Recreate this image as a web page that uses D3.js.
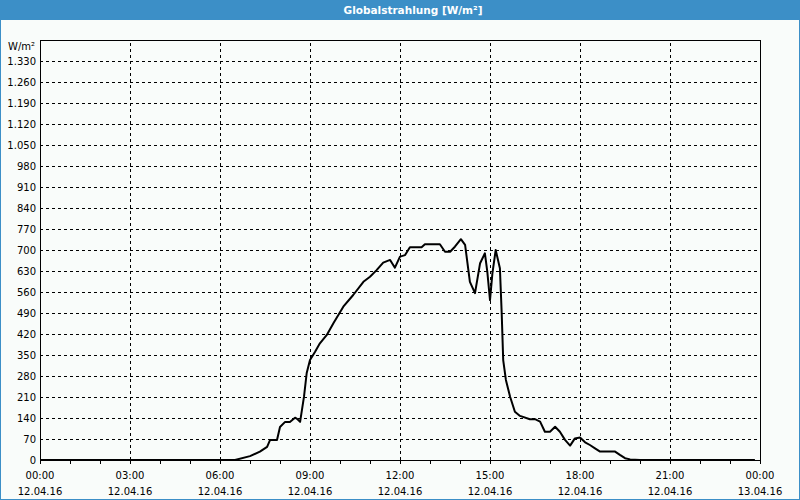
<!DOCTYPE html>
<html>
<head>
<meta charset="utf-8">
<script src="https://cdn.jsdelivr.net/npm/d3@7"></script>
<style>
  body { margin: 0; background: #fff; }
  svg { display: block; }
</style>
</head>
<body>
<svg id="chart"></svg>
<script>
// chart data (hours since 12.04.16 00:00, W/m²)
const hours = [0, 6.5, 7.0, 7.33, 7.57, 7.67, 7.9, 8.0, 8.17, 8.33, 8.5, 8.57, 8.67, 8.8, 8.89,
    9.0, 9.17, 9.33, 9.56, 9.78, 10.11, 10.44, 10.78, 11.0, 11.22, 11.44, 11.67, 11.83, 12.0,
    12.17, 12.33, 12.72, 12.83, 13.33, 13.5, 13.67, 13.83, 14.03, 14.17, 14.33, 14.5, 14.67,
    14.83, 14.91, 15.0, 15.08, 15.19, 15.33, 15.39, 15.44, 15.53, 15.67, 15.83, 16.0, 16.33,
    16.5, 16.67, 16.83, 17.0, 17.17, 17.33, 17.5, 17.67, 17.83, 18.0, 18.17, 18.33, 18.5,
    18.67, 19.17, 19.33, 19.5, 19.67, 20.0, 23.83];
const radiation = [0, 0, 13, 28, 44, 67, 67, 110, 127, 127, 141, 137, 127, 211, 290,
    333, 361, 389, 417, 456, 511, 550, 594, 611, 633, 658, 667, 641, 678,
    683, 709, 709, 719, 719, 694, 694, 711, 736, 717, 594, 556, 656,
    689, 628, 533, 622, 700, 639, 489, 333, 267, 211, 161, 147, 136,
    136, 128, 94, 94, 111, 94, 67, 48, 72, 75, 59, 50, 39,
    28, 28, 17, 6, 2, 0, 0];

const yTicks = d3.range(0, 1331, 70);
const xTicks = [0, 3, 6, 9, 12, 15, 18, 21, 24];
const xTimeLabels = ["00:00", "03:00", "06:00", "09:00", "12:00", "15:00", "18:00", "21:00", "00:00"];
const xDateLabels = ["12.04.16", "12.04.16", "12.04.16", "12.04.16", "12.04.16", "12.04.16", "12.04.16", "12.04.16", "13.04.16"];
const titleText = "Globalstrahlung [W/m²]";
const unitText = "W/m²";

const width = 800, height = 500;
const margin = {top: 40, right: 40, bottom: 40, left: 40};
const blue = "#3c8fc7";
const font = "DejaVu Sans, Verdana, sans-serif";

const svg = d3.select("#chart")
    .attr("width", width)
    .attr("height", height);

// background + frame
svg.append("rect")
    .attr("width", width).attr("height", height)
    .attr("fill", "#f9fcfa");
svg.append("rect")
    .attr("x", 0.5).attr("y", 0.5)
    .attr("width", width - 1).attr("height", height - 1)
    .attr("fill", "none").attr("stroke", blue);

// title bar
svg.append("rect")
    .attr("width", width).attr("height", 20)
    .attr("fill", blue);
svg.append("text")
    .attr("x", 413).attr("y", 14)
    .attr("text-anchor", "middle")
    .attr("fill", "#fff")
    .attr("font-family", font)
    .attr("font-size", "10.5px")
    .attr("font-weight", "bold")
    .text(titleText);

const x = d3.scaleLinear().domain([0, 24]).range([margin.left, width - margin.right]);
const y = d3.scaleLinear().domain([0, 1400]).range([height - margin.bottom, margin.top]);

// grid
const grid = svg.append("g")
    .attr("stroke", "#000")
    .attr("stroke-dasharray", "3,3")
    .attr("shape-rendering", "crispEdges");
grid.selectAll(".hgrid")
    .data(yTicks.filter(d => d > 0))
    .join("line")
    .attr("class", "hgrid")
    .attr("x1", x(0)).attr("x2", x(24))
    .attr("y1", d => y(d)).attr("y2", d => y(d));
grid.selectAll(".vgrid")
    .data(xTicks.slice(1, -1))
    .join("line")
    .attr("class", "vgrid")
    .attr("x1", d => x(d)).attr("x2", d => x(d))
    .attr("y1", y(0)).attr("y2", y(1400));

// plot frame
svg.append("rect")
    .attr("x", x(0)).attr("y", y(1400))
    .attr("width", x(24) - x(0)).attr("height", y(0) - y(1400))
    .attr("fill", "none").attr("stroke", "#000")
    .attr("shape-rendering", "crispEdges");

// hourly ticks under the x axis
svg.append("g")
    .attr("transform", `translate(0,${y(0)})`)
    .call(d3.axisBottom(x).tickValues(d3.range(0, 25)).tickSize(4).tickFormat(""))
    .call(g => g.select(".domain").remove())
    .attr("shape-rendering", "crispEdges");

// y labels
svg.append("g")
    .attr("font-family", font)
    .attr("font-size", "10px")
    .attr("text-anchor", "end")
    .selectAll("text")
    .data(yTicks)
    .join("text")
    .attr("x", x(0) - 4)
    .attr("y", d => y(d) + 4)
    .text(d => d3.format(",")(d).replace(",", "."));

svg.append("text")
    .attr("x", 8).attr("y", 50)
    .attr("font-family", font)
    .attr("font-size", "10px")
    .text(unitText);

// x labels, two lines
const xl = svg.append("g")
    .attr("font-family", font)
    .attr("font-size", "10px")
    .attr("text-anchor", "middle");
xl.selectAll(".tl")
    .data(xTicks)
    .join("text")
    .attr("class", "tl")
    .attr("x", d => x(d)).attr("y", 479)
    .text((d, i) => xTimeLabels[i]);
xl.selectAll(".dl")
    .data(xTicks)
    .join("text")
    .attr("class", "dl")
    .attr("x", d => x(d)).attr("y", 495)
    .text((d, i) => xDateLabels[i]);

// data line
const line = d3.line()
    .x((d, i) => x(hours[i]))
    .y(d => y(d));
svg.append("path")
    .datum(radiation)
    .attr("fill", "none")
    .attr("stroke", "#000")
    .attr("stroke-width", 2)
    .attr("stroke-linejoin", "round")
    .attr("d", line);
</script>
</body>
</html>
